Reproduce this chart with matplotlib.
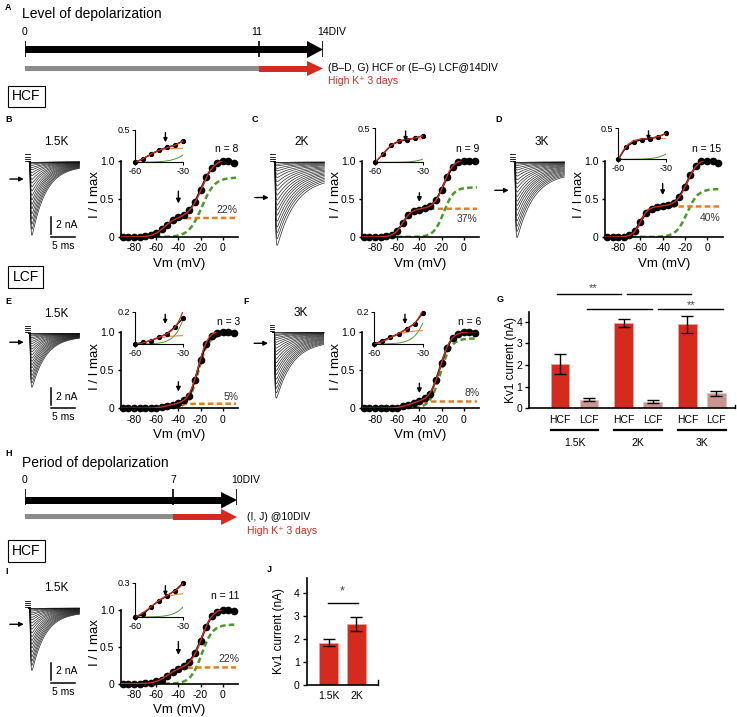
import numpy as np
import matplotlib
matplotlib.use('Agg')
import matplotlib.pyplot as plt
from matplotlib.patches import Rectangle, Polygon

plt.rcParams['font.family'] = ['Liberation Sans', 'DejaVu Sans']
plt.rcParams['axes.unicode_minus'] = False

W, H = 737, 717
RED = '#d52a1e'
ORANGE = '#ea7b1e'
GREEN = '#4d9a2c'
PINK = '#c8958f'
GREY = '#8c8c8c'

# command potentials of the I/V protocol (mV)
vm = np.arange(-90, 11, 5)

# normalised peak current (I / I max) per step
iv_b = [0, 0, 0, 0, 0.01, 0.02, 0.05, 0.10, 0.16, 0.22, 0.26, 0.29, 0.35, 0.46, 0.62, 0.78, 0.90, 0.97, 1.0, 1.0, 0.97]
iv_c = [0, 0, 0, 0, 0.01, 0.03, 0.08, 0.18, 0.29, 0.34, 0.36, 0.38, 0.41, 0.48, 0.62, 0.79, 0.92, 0.98, 1.0, 1.0, 0.99]
iv_d = [0, 0, 0, 0, 0.02, 0.08, 0.20, 0.32, 0.37, 0.39, 0.40, 0.42, 0.45, 0.53, 0.66, 0.81, 0.93, 0.99, 1.0, 1.0, 0.97]
iv_e = [0, 0, 0, 0, 0, 0, 0.01, 0.02, 0.03, 0.05, 0.07, 0.11, 0.16, 0.37, 0.64, 0.84, 0.95, 0.99, 1.0, 1.0, 0.99]
iv_f = [0, 0, 0, 0, 0, 0, 0.01, 0.03, 0.05, 0.07, 0.10, 0.13, 0.19, 0.37, 0.60, 0.80, 0.93, 0.98, 1.0, 1.0, 0.99]
iv_i = [0, 0, 0, 0, 0.01, 0.01, 0.03, 0.05, 0.11, 0.16, 0.20, 0.24, 0.30, 0.41, 0.58, 0.77, 0.91, 0.97, 1.0, 1.0, 0.98]

# two-component Boltzmann fits: (amplitude, V1/2, slope) low- and high-threshold
fit_b = [(0.25, -53, 5.0), (0.78, -19, 5.8)]
fit_c = [(0.37, -55, 4.0), (0.65, -18, 4.5)]
fit_d = [(0.40, -60, 3.5), (0.63, -18, 5.0)]
fit_e = [(0.06, -50, 5.0), (0.97, -22, 4.5)]
fit_f = [(0.09, -50, 5.0), (0.92, -21, 4.8)]
fit_i = [(0.22, -50, 5.5), (0.80, -19, 5.0)]

n_cells = [8, 9, 15, 3, 6, 11]
low_pct = ['22%', '37%', '40%', '5%', '8%', '22%']
conds = ['1.5K', '2K', '3K', '1.5K', '3K', '1.5K']

# example current traces: relative peak of each sweep, max current (nA),
# decay tau (ms) and sustained fraction per panel
tr_frac = [0.0, 0.01, 0.03, 0.05, 0.08, 0.11, 0.15, 0.19, 0.24, 0.29, 0.34, 0.40,
           0.46, 0.52, 0.58, 0.64, 0.71, 0.78, 0.85, 0.92, 1.0]
tr_imax = [10.2, 11.1, 10.2, 7.5, 8.9, 8.7]
tr_tau = [2.9, 3.8, 3.5, 2.9, 3.4, 2.8]
tr_ss = [0.05, 0.17, 0.13, 0.05, 0.12, 0.06]

# panel G: Kv1 current (nA)
g_groups = ['1.5K', '2K', '3K']
g_hcf = [2.07, 3.95, 3.88]
g_hcf_err = [0.46, 0.19, 0.38]
g_lcf = [0.40, 0.31, 0.69]
g_lcf_err = [0.065, 0.06, 0.12]

# panel J
j_labels = ['1.5K', '2K']
j_vals = [1.83, 2.64]
j_err = [0.16, 0.29]

fig = plt.figure(figsize=(W / 100, H / 100), dpi=100)


def px_axes(l, t, r, b):
    return fig.add_axes([l / W, 1 - b / H, (r - l) / W, (b - t) / H])


def ftext(x, y, s, **kw):
    kw.setdefault('va', 'center')
    return fig.text(x / W, 1 - y / H, s, **kw)


def boltz(v, amp, vh, k):
    return amp / (1 + np.exp((vh - v) / k))


MV = 1.109  # px per mV in the I/V plots
ARW = dict(arrowstyle='-|>', color='k', lw=1.0, mutation_scale=6.5, shrinkA=0, shrinkB=0)


def iv_panel(spine_x, y_zero, y_one, dots, fit, n, pct, pct_xy, n_xy, arrow_y, inset_box, ymax):
    ax = px_axes(spine_x, y_one, spine_x + 106 * MV, y_zero)
    v = np.linspace(-92, 12, 300)
    lo = boltz(v, *fit[0])
    hi = boltz(v, *fit[1])
    ax.plot(v, hi, color=GREEN, lw=1.8, dashes=(2.2, 1.3), zorder=2)
    ax.plot(v, lo, color=ORANGE, lw=1.8, dashes=(2.2, 1.3), zorder=2)
    ax.plot(vm, dots, '-o', color='k', ms=4.5, lw=1.4, clip_on=False, zorder=3)
    ax.plot(v, lo + hi, color=RED, lw=1.0, zorder=4)
    ax.set_xlim(-92, 14)
    ax.set_ylim(0, 1)
    for s in ['top', 'right']:
        ax.spines[s].set_visible(False)
    for s in ['left', 'bottom']:
        ax.spines[s].set_linewidth(1.2)
    ax.set_xticks([-80, -60, -40, -20, 0])
    ax.set_yticks([0, 0.5, 1.0])
    ax.set_yticklabels(['0', '0.5', '1.0'])
    ax.tick_params(direction='out', length=2.5, width=1, labelsize=7.5, pad=2)
    ax.set_xlabel('Vm (mV)', fontsize=9.5)
    ax.xaxis.set_label_coords(0.5, -0.27)
    ax.set_ylabel('I / I max', fontsize=9.5)
    ax.yaxis.set_label_coords(-0.17, 0.55)
    ax.text(n_xy[0], n_xy[1], 'n = %d' % n, ha='center', va='center', fontsize=7.5)
    ax.text(pct_xy[0], pct_xy[1], pct, ha='center', va='center', fontsize=7.5, color='#333333')
    ax.annotate('', xy=(-40, arrow_y[1]), xytext=(-40, arrow_y[0]), arrowprops=ARW)

    # inset: -60 to -30 mV, y axis starting at the -60 mV value
    ins = px_axes(*inset_box)
    sel = (vm >= -60) & (vm <= -30)
    ybot = dots[list(vm).index(-60)]
    vi = np.linspace(-60, -30, 100)
    ins.plot(vi, ybot + boltz(vi, *fit[1]), color=GREEN, lw=0.7)
    ins.plot(vi, boltz(vi, *fit[0]), color=ORANGE, lw=0.7)
    ins.plot(vm[sel], np.array(dots)[sel], '-o', color='k', ms=2.8, lw=0.9, clip_on=False)
    ins.plot(vi, boltz(vi, *fit[0]) + boltz(vi, *fit[1]), color=RED, lw=0.9)
    ins.set_xlim(-60, -30)
    ins.set_ylim(ybot, ymax)
    for s in ['top', 'right']:
        ins.spines[s].set_visible(False)
    for s in ['left', 'bottom']:
        ins.spines[s].set_linewidth(0.8)
    ins.set_xticks([-60, -30])
    ins.set_yticks([ymax])
    ins.set_yticklabels([str(ymax)])
    ins.tick_params(direction='out', length=2, width=0.7, labelsize=6.5, pad=1.5)
    ins.annotate('', xy=(-41, 0.62), xytext=(-41, 0.92), xycoords=('data', 'axes fraction'),
                 textcoords=('data', 'axes fraction'),
                 arrowprops=dict(ARW, mutation_scale=5.5))


PXMS, PXNA = 4.8, 8.5  # px per ms / per nA in the trace panels


def trace_panel(ox, oy, arrow_frac, imax, tau, ss, cond, scalebar):
    ax = px_axes(ox - 1.6 * PXMS, oy - 3 * PXNA, ox + 11 * PXMS, oy + 12 * PXNA)
    ax.set_xlim(-1.6, 11)
    ax.set_ylim(-12, 3)
    ax.axis('off')
    t = np.linspace(0, 10.3, 300)
    for f in tr_frac:
        amp = imax * f
        y = -amp * ((1 - ss) * np.exp(-t / tau) + ss) * (1 - np.exp(-t / 0.12))
        ax.plot(np.r_[-0.3, t], np.r_[0, y], color='#111111', lw=0.45)
    for h in [0.85, 0.6, 0.35, 0.1]:
        ax.plot([-1.0, 0.0], [h, h], color='k', lw=0.6)
    ax.text(5.5, 2.3, cond, ha='center', va='center', fontsize=8.5)
    ya = -imax * arrow_frac
    ax.annotate('', xy=(-1.3, ya), xytext=(-4.2, ya), annotation_clip=False, arrowprops=ARW)
    if scalebar:
        ax.plot([4.4, 4.4], [-6.45, -8.45], color='k', lw=1.1, clip_on=False)
        ax.plot([4.4, 9.4], [-8.8, -8.8], color='k', lw=1.1, clip_on=False)
        ax.text(5.4, -7.45, '2 nA', ha='left', va='center', fontsize=7.5)
        ax.text(6.9, -9.9, '5 ms', ha='center', va='center', fontsize=7.5)


iv_sets = [iv_b, iv_c, iv_d, iv_e, iv_f, iv_i]
fits = [fit_b, fit_c, fit_d, fit_e, fit_f, fit_i]
# layout: spine x, y of 0, y of 1, trace origin, inset box, inset ymax, text spots, arrow
layout = [
    (120.7, 237.0, 160.7, (30, 161.7), (135, 130, 183, 162.3), 0.5, (3.5, 0.35), (3.6, 1.15), (0.6, 0.44), True),
    (361.7, 237.0, 160.7, (275, 161.7), (375, 128.3, 423.3, 162.3), 0.5, (3.2, 0.24), (3.6, 1.15), (0.58, 0.46), False),
    (605.0, 237.0, 160.7, (515, 161.7), (618.3, 128.3, 666, 159.3), 0.5, (2.7, 0.245), (0.0, 1.15), (0.7, 0.55), False),
    (120.7, 408.3, 332.3, (30, 333.3), (135, 311.7, 182.7, 344), 0.2, (7.4, 0.15), (5.0, 1.13), (0.35, 0.22), True),
    (361.7, 408.3, 332.3, (274.3, 332.3), (374.3, 311.7, 422.7, 344), 0.2, (7.2, 0.2), (5.0, 1.13), (0.33, 0.2), False),
    (120.7, 683.7, 609.7, (30, 608), (135, 583, 183, 617), 0.3, (5.7, 0.33), (2.0, 1.18), (0.57, 0.39), True),
]
arrow_level = [0.2, 0.38, 0.33, 0.14, 0.145, 0.22]

for k, (sx, y0, y1, org, ibox, ymax, pxy, nxy, ay, sb) in enumerate(layout):
    iv_panel(sx, y0, y1, iv_sets[k], fits[k], n_cells[k], low_pct[k], pxy, nxy, ay, ibox, ymax)
    trace_panel(org[0], org[1], arrow_level[k], tr_imax[k], tr_tau[k], tr_ss[k], conds[k], sb)

# timelines (x in days, y in pixel rows)
tla = px_axes(25, 25, 323, 90)
tla.set_xlim(0, 14)
tla.set_ylim(90, 25)
tla.axis('off')
tla.add_patch(Rectangle((0, 46), 13.3, 7, color='k', lw=0))
tla.add_patch(Polygon([(13.25, 41), (13.25, 58), (14, 49.5)], closed=True, color='k', lw=0))
tla.vlines([0, 11, 14], 41, 57, color='k', lw=1.2)
tla.add_patch(Rectangle((0, 66.2), 11, 4.8, color=GREY, lw=0))
tla.add_patch(Rectangle((11, 65.5), 2.3, 6, color=RED, lw=0))
tla.add_patch(Polygon([(13.25, 61), (13.25, 76), (14, 68.5)], closed=True, color=RED, lw=0))
tla.text(0, 32, '0', ha='center', va='center', fontsize=7.5)
tla.text(10.9, 32, '11', ha='center', va='center', fontsize=7.5)
tla.text(13.72, 32, '14DIV', ha='left', va='center', fontsize=7.5)

tlh = px_axes(25, 475, 237, 535)
tlh.set_xlim(0, 10)
tlh.set_ylim(535, 475)
tlh.axis('off')
tlh.add_patch(Rectangle((0, 496.5), 9.3, 7, color='k', lw=0))
tlh.add_patch(Polygon([(9.25, 492), (9.25, 508.5), (10, 500)], closed=True, color='k', lw=0))
tlh.vlines([0, 7, 10], 489, 505, color='k', lw=1.2)
tlh.add_patch(Rectangle((0, 514.3), 7, 4.8, color=GREY, lw=0))
tlh.add_patch(Rectangle((7, 513.7), 2.3, 6, color=RED, lw=0))
tlh.add_patch(Polygon([(9.25, 509), (9.25, 525), (10, 517)], closed=True, color=RED, lw=0))
tlh.text(0, 480, '0', ha='center', va='center', fontsize=7.5)
tlh.text(7, 480, '7', ha='center', va='center', fontsize=7.5)
tlh.text(9.75, 480, '10DIV', ha='left', va='center', fontsize=7.5)

ftext(22, 14, 'Level of depolarization', fontsize=10)
ftext(328, 68, '(B–D, G) HCF or (E–G) LCF@14DIV', fontsize=7.5)
ftext(328, 81, 'High K⁺ 3 days', fontsize=7.5, color=RED)
ftext(22, 463, 'Period of depolarization', fontsize=10)
ftext(247, 517.5, '(I, J) @10DIV', fontsize=7.5)
ftext(247, 530.5, 'High K⁺ 3 days', fontsize=7.5, color=RED)

box = dict(boxstyle='square,pad=0.28', fc='white', ec='k', lw=0.8)
ftext(26.5, 96.5, 'HCF', fontsize=10, ha='center', bbox=box)
ftext(25.5, 277, 'LCF', fontsize=10, ha='center', bbox=box)
ftext(26.5, 551, 'HCF', fontsize=10, ha='center', bbox=box)

for s, x, y in [('A', 5, 7), ('B', 5, 120), ('C', 252, 120), ('D', 495, 120), ('E', 5, 302),
                ('F', 243, 302), ('G', 497, 300), ('H', 5, 454), ('I', 5, 572), ('J', 267, 570)]:
    ftext(x, y, s, fontsize=6.5, fontweight='bold')

# panel G
axg = px_axes(529.3, 311.7, 735, 408.3)
gpos_h = np.arange(3) * 2.16
gpos_l = gpos_h + 0.98
ekw = dict(lw=1, capthick=1, ecolor='k')
axg.bar(gpos_h, g_hcf, width=0.63, color=RED, edgecolor='#eaa59e', lw=0.6,
        yerr=g_hcf_err, capsize=4, error_kw=ekw)
axg.bar(gpos_l, g_lcf, width=0.63, color=PINK, edgecolor='#e2c3bf', lw=0.6,
        yerr=g_lcf_err, capsize=4, error_kw=ekw)
axg.set_xlim(-1.04, 5.93)
axg.set_ylim(0, 4.47)
for s in ['top', 'right']:
    axg.spines[s].set_visible(False)
for s in ['left', 'bottom']:
    axg.spines[s].set_linewidth(1.2)
axg.set_yticks([0, 1, 2, 3, 4])
axg.set_xticks(np.ravel(np.column_stack([gpos_h, gpos_l])))
axg.set_xticklabels(['HCF', 'LCF'] * 3)
axg.tick_params(axis='y', direction='out', length=3, width=1, labelsize=7.5, pad=2)
axg.tick_params(axis='x', length=0, labelsize=7.5, pad=5)
axg.set_ylabel('Kv1 current (nA)', fontsize=8.5)
axg.yaxis.set_label_coords(-0.06, 0.5)
axg.plot([5.93, 5.93], [0, 0.13], color='k', lw=1, clip_on=False)
tr = axg.get_xaxis_transform()
for k, g in enumerate(g_groups):
    axg.plot([gpos_h[k] - 0.32, gpos_l[k] + 0.32], [-0.225, -0.225], color='k', lw=1.6,
             transform=tr, clip_on=False)
    axg.text((gpos_h[k] + gpos_l[k]) / 2, -0.36, g, ha='center', va='center', fontsize=7.5,
             transform=tr)
sig = [((gpos_h[0] - 0.1, gpos_h[1] - 0.08), 1.185), ((gpos_h[1] + 0.1, gpos_h[2] + 0.11), 1.185),
       ((gpos_l[0] - 0.05, gpos_l[1] - 0.03), 1.025), ((gpos_l[1] + 0.19, gpos_l[2] + 0.22), 1.025)]
for (xa, xb), yy in sig:
    axg.plot([xa, xb], [yy, yy], color='k', lw=1, transform=tr, clip_on=False)
axg.text(1.12, 1.245, '**', ha='center', va='center', fontsize=8, color='#444444', transform=tr)
axg.text(4.43, 1.07, '**', ha='center', va='center', fontsize=8, color='#444444', transform=tr)

# panel J
axj = px_axes(306.7, 578, 378.3, 685)
jpos = np.arange(len(j_vals))
axj.bar(jpos, j_vals, width=0.68, color=RED, edgecolor='#eaa59e', lw=0.6,
        yerr=j_err, capsize=4, error_kw=ekw)
axj.set_xlim(-0.8, 1.79)
axj.set_ylim(0, 4.63)
for s in ['top', 'right']:
    axj.spines[s].set_visible(False)
for s in ['left', 'bottom']:
    axj.spines[s].set_linewidth(1.2)
axj.set_yticks([0, 1, 2, 3, 4])
axj.set_xticks(jpos)
axj.set_xticklabels(j_labels)
axj.tick_params(axis='y', direction='out', length=3, width=1, labelsize=7.5, pad=2)
axj.tick_params(axis='x', length=0, labelsize=7.5, pad=4)
axj.set_ylabel('Kv1 current (nA)', fontsize=8.5)
axj.yaxis.set_label_coords(-0.3, 0.5)
axj.plot([1.79, 1.79], [0, 0.2], color='k', lw=1, clip_on=False)
axj.plot([-0.04, 1.06], [3.54, 3.54], color='k', lw=1, clip_on=False)
axj.text(0.5, 4.05, '*', ha='center', va='center', fontsize=9, color='#444444')

fig.savefig('out.png', dpi=100, facecolor='white')
